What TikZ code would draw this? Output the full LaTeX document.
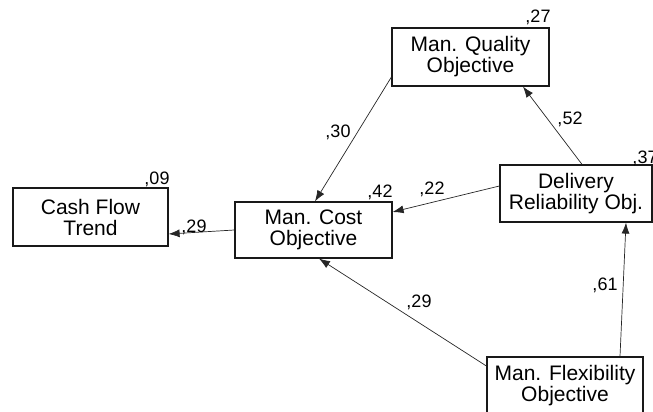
\documentclass[tikz,border=0pt]{standalone}
\usepackage{fontspec}
\setmainfont{Liberation Sans}
\usetikzlibrary{arrows.meta}

\tikzset{
  construct/.style={draw=black!90, line width=1.2pt, fill=white, align=center, inner sep=0pt,
    minimum width=157pt, minimum height=58pt, font=\fontsize{21}{21}\selectfont},
  effect/.style={draw=black!85, line width=0.7pt, -{Latex[length=11pt,width=8pt]}},
  coef/.style={font=\fontsize{18}{18}\selectfont, inner sep=0pt, anchor=base}
}

\begin{document}
\begin{tikzpicture}[x=1pt, y=1pt]
  \useasboundingbox (0,0) rectangle (653,412);
  % Constructs
  \node[construct] (qual) at (470.5,355) {Man. Quality\\Objective};
  \node[construct, minimum width=152pt, minimum height=57pt] (deliv) at (576,218.5) {Delivery\\Reliability Obj.};
  \node[construct, minimum height=56pt] (cost) at (313.5,182) {Man. Cost\\Objective};
  \node[construct, minimum width=155pt] (cash) at (90.5,195) {Cash Flow\\Trend};
  \node[construct, minimum width=156pt] (flex) at (565,26) {Man. Flexibility\\Objective};
  % Paths
  \draw[effect] ([xshift=6pt]deliv.north) -- ([xshift=52.5pt]qual.south);
  \draw[effect] ([yshift=-20pt]qual.west) -- ([xshift=1.5pt]cost.north);
  \draw[effect] ([yshift=7.5pt]deliv.west) -- ([yshift=18pt]cost.east);
  \draw[effect] (cost.west) -- ([yshift=-17pt]cash.east);
  \draw[effect] ([yshift=20pt]flex.west) -- ([xshift=5.5pt]cost.south);
  \draw[effect] ([xshift=55pt]flex.north) -- ([xshift=50pt]deliv.south);
  % Explained variance
  \node[coef] (rqual) at (538,389.5) {,27};
  \node[coef] (rdeliv) at (645,248.5) {,37};
  \node[coef] (rcost) at (380,214.5) {,42};
  \node[coef] (rcash) at (157,227.5) {,09};
  % Path coefficients
  \node[coef] (bdq) at (570,287.5) {,52};
  \node[coef] (bqc) at (338,274.5) {,30};
  \node[coef] (bdc) at (432,217.5) {,22};
  \node[coef] (bcc) at (194,179.5) {,29};
  \node[coef] (bfc) at (419,104.5) {,29};
  \node[coef] (bfd) at (605,121.5) {,61};
\end{tikzpicture}
\end{document}
